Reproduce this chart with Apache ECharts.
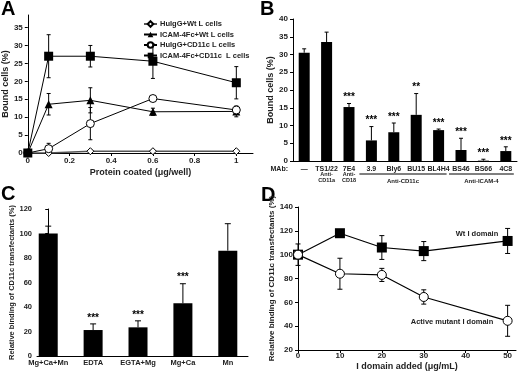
<!DOCTYPE html>
<html>
<head>
<meta charset="utf-8">
<script src="https://cdn.jsdelivr.net/npm/echarts@6/dist/echarts.min.js"></script>
<style>
html,body{margin:0;padding:0;background:#fff}
#main{width:520px;height:372px}
</style>
</head>
<body>
<div id="main"></div>
<script>
// panel A
var aDose = [0, 0.1, 0.3, 0.6, 1];
var aHuWt = [0, 0, 0.5, 0.5, 0.5];
var aHuWtErr = [0, 0.2, 0.3, 0.3, 0.3];
var aIcamWt = [0, 13.6, 14.7, 11.5, 11.6];
var aIcamWtErr = [0, 3, 3.5, 1, 1.5];
var aHuCd = [0, 1.2, 8.2, 15.2, 12];
var aHuCdErr = [0, 1.5, 4.5, 0.7, 1];
var aIcamCd = [0, 27, 27, 25.6, 19.6];
var aIcamCdErr = [0, 6, 3, 4.8, 4.5];
var aNames = ['HuIgG+Wt L cells', 'ICAM-4Fc+Wt L cells', 'HuIgG+CD11c L cells', 'ICAM-4Fc+CD11c  L cells'];
var aYTicks = [0, 5, 10, 15, 20, 25, 30, 35];
var aXTicks = [0, 0.2, 0.4, 0.6, 0.8, 1];

// panel B
var bMabs = ['—', 'TS1/22', '7E4', '3.9', 'Bly6', 'BU15', 'BL4H4', 'BS46', 'BS66', '4C8'];
var bBound = [30.5, 33.5, 15.2, 5.8, 8.1, 13, 8.7, 3.1, 0.1, 2.8];
var bErr = [1.1, 2.8, 1, 3.9, 2.6, 6, 0.3, 3.3, 0.4, 1.2];
var bStars = ['', '', '***', '***', '***', '**', '***', '***', '***', '***'];
var bSub = ['', 'Anti-\nCD11a', 'Anti-\nCD18', '', '', '', '', '', '', ''];
var bGroups = [['Anti-CD11c', 3, 6], ['Anti-ICAM-4', 7, 9]];

// panel C
var cCond = ['Mg+Ca+Mn', 'EDTA', 'EGTA+Mg', 'Mg+Ca', 'Mn'];
var cRel = [100, 21.2, 23.4, 43, 86];
var cErr = [6, 5, 5.3, 16, 22];
var cStars = ['', '***', '***', '***', ''];

// panel D
var dConc = [0, 10, 20, 30, 50];
var dWt = [100, 118, 106, 103, 111.5];
var dWtErr = [0, 3, 10, 8, 10.5];
var dMut = [100, 84, 83, 64.5, 44.5];
var dMutErr = [9, 13, 5.5, 6, 13];

var FONT = 'Liberation Sans, Arial, sans-serif';
var myChart = echarts.init(document.getElementById('main'));

function pairs(xs, ys) {
	return xs.map(function(x, i) { return [x, ys[i]]; });
}
function triples(xs, ys, es) {
	return xs.map(function(x, i) { return [x, ys[i], es[i]]; });
}

// error bar drawer, optional asterisks above
function errBars(upOnly, cap, stars) {
	return function(params, api) {
		var x = api.value(0), y = api.value(1), e = api.value(2);
		var top = api.coord([x, y + e]);
		var bot = api.coord([x, upOnly ? y : y - e]);
		var st = {stroke: '#000', lineWidth: 1};
		var kids = [];
		if (e > 0) {
			kids.push({type: 'line', shape: {x1: top[0], y1: top[1], x2: bot[0], y2: bot[1]}, style: st});
			kids.push({type: 'line', shape: {x1: top[0] - cap, y1: top[1], x2: top[0] + cap, y2: top[1]}, style: st});
			if (!upOnly) {
				kids.push({type: 'line', shape: {x1: bot[0] - cap, y1: bot[1], x2: bot[0] + cap, y2: bot[1]}, style: st});
			}
		}
		var s = stars ? stars[params.dataIndex] : '';
		if (s) {
			kids.push({type: 'text', style: {text: s, x: top[0], y: top[1] - 1, align: 'center', verticalAlign: 'bottom',
				font: 'bold 10px ' + FONT, fill: '#000'}});
		}
		return {type: 'group', children: kids};
	};
}

var axLine = {lineStyle: {color: '#000', width: 1}};
var lbl = {color: '#222', fontWeight: 'bold', fontSize: 8, fontFamily: FONT};
var nameSt = {color: '#222', fontWeight: 'bold', fontSize: 9, fontFamily: FONT};

function openSym(c) {
	return {color: c, borderColor: '#000', borderWidth: 1};
}

var option = {
	animation: false,
	grid: [
		{left: 26, top: 15, width: 227, height: 138},
		{left: 293, top: 19, width: 224, height: 142},
		{left: 37, top: 209, width: 211, height: 147},
		{left: 298, top: 207, width: 218, height: 145}
	],
	legend: {
		data: aNames,
		orient: 'vertical',
		left: 143, top: 20,
		padding: 0,
		itemWidth: 13, itemHeight: 7, itemGap: 2.5,
		textStyle: {color: '#222', fontWeight: 'bold', fontSize: 7.5, fontFamily: FONT, padding: [0, 0, 0, -2]}
	},
	xAxis: [
		{
			gridIndex: 0, type: 'value', min: 0, max: 1.08,
			axisLine: axLine, splitLine: {show: false},
			axisTick: {customValues: aXTicks, length: 3, lineStyle: {color: '#000'}},
			axisLabel: Object.assign({customValues: aXTicks, margin: 4}, lbl),
			name: 'Protein coated (μg/well)', nameLocation: 'middle', nameGap: 15, nameTextStyle: nameSt
		},
		{
			gridIndex: 1, type: 'category', data: bMabs,
			axisLine: axLine, axisTick: {show: false},
			axisLabel: Object.assign({interval: 0, margin: 5}, lbl, {fontSize: 7})
		},
		{
			gridIndex: 2, type: 'value', min: -0.25, max: 4.45,
			axisLine: axLine, splitLine: {show: false}, axisTick: {show: false},
			axisLabel: Object.assign({customValues: [0, 1, 2, 3, 4], margin: 3,
				formatter: function(v) { return cCond[Math.round(v)]; }}, lbl, {fontSize: 7.5})
		},
		{
			gridIndex: 3, type: 'value', min: 0, max: 52,
			axisLine: axLine, splitLine: {show: false},
			axisTick: {customValues: dConc.concat([40]), length: 3, lineStyle: {color: '#000'}},
			axisLabel: Object.assign({customValues: [0, 10, 20, 30, 40, 50], margin: 2}, lbl),
			name: 'I domain added (μg/mL)', nameLocation: 'middle', nameGap: 12, nameTextStyle: nameSt
		}
	],
	yAxis: [
		{
			gridIndex: 0, type: 'value', min: 0, max: 38.5,
			axisLine: {show: true, lineStyle: {color: '#000', width: 1}}, splitLine: {show: false},
			axisTick: {show: true, customValues: aYTicks, length: 3, lineStyle: {color: '#000'}},
			axisLabel: Object.assign({customValues: aYTicks, margin: 5}, lbl),
			name: 'Bound cells (%)', nameLocation: 'middle', nameGap: 12, nameTextStyle: nameSt
		},
		{
			gridIndex: 1, type: 'value', min: 0, max: 40, interval: 5,
			axisLine: {show: true, lineStyle: {color: '#000', width: 1}}, splitLine: {show: false},
			axisTick: {show: true, length: 3, lineStyle: {color: '#000'}},
			axisLabel: Object.assign({margin: 5}, lbl),
			name: 'Bound cells (%)', nameLocation: 'middle', nameGap: 13, nameTextStyle: nameSt
		},
		{
			gridIndex: 2, type: 'value', min: 0, max: 120, interval: 20,
			axisLine: {show: true, lineStyle: {color: '#000', width: 1}}, splitLine: {show: false},
			axisTick: {show: true, length: 3, lineStyle: {color: '#000'}},
			axisLabel: Object.assign({margin: 5}, lbl, {fontSize: 7.5}),
			name: 'Relative binding of CD11c transfectants (%)', nameLocation: 'middle', nameGap: 18,
			nameTextStyle: Object.assign({}, nameSt, {fontSize: 7.5})
		},
		{
			gridIndex: 3, type: 'value', min: 20, max: 140, interval: 20,
			axisLine: {show: true, lineStyle: {color: '#000', width: 1}}, splitLine: {show: false},
			axisTick: {show: true, length: 3, lineStyle: {color: '#000'}},
			axisLabel: Object.assign({margin: 5}, lbl),
			name: 'Relative binding of CD11c transfectants (%)', nameLocation: 'middle', nameGap: 20,
			nameTextStyle: Object.assign({}, nameSt, {fontSize: 8})
		}
	],
	series: [
		// A
		{
			type: 'custom', xAxisIndex: 0, yAxisIndex: 0, renderItem: errBars(false, 2, null),
			data: triples(aDose, aHuWt, aHuWtErr)
				.concat(triples(aDose, aIcamWt, aIcamWtErr))
				.concat(triples(aDose, aHuCd, aHuCdErr))
				.concat(triples(aDose, aIcamCd, aIcamCdErr))
		},
		{
			name: aNames[0], type: 'line', xAxisIndex: 0, yAxisIndex: 0, data: pairs(aDose, aHuWt),
			symbol: 'diamond', symbolSize: 7, showAllSymbol: true,
			lineStyle: {color: '#555', width: 1.5}, itemStyle: openSym('#fff')
		},
		{
			name: aNames[1], type: 'line', xAxisIndex: 0, yAxisIndex: 0, data: pairs(aDose, aIcamWt),
			symbol: 'triangle', symbolSize: 8,
			lineStyle: {color: '#000', width: 1}, itemStyle: {color: '#000'}
		},
		{
			name: aNames[2], type: 'line', xAxisIndex: 0, yAxisIndex: 0, data: pairs(aDose, aHuCd),
			symbol: 'circle', symbolSize: 8,
			lineStyle: {color: '#000', width: 1}, itemStyle: openSym('#fff')
		},
		{
			name: aNames[3], type: 'line', xAxisIndex: 0, yAxisIndex: 0, data: pairs(aDose, aIcamCd),
			symbol: 'rect', symbolSize: 9,
			lineStyle: {color: '#000', width: 1}, itemStyle: {color: '#000'}
		},
		// B
		{
			type: 'bar', xAxisIndex: 1, yAxisIndex: 1, data: bBound, barWidth: 11,
			itemStyle: {color: '#000'}
		},
		{
			type: 'custom', xAxisIndex: 1, yAxisIndex: 1, renderItem: errBars(true, 2, bStars),
			data: triples(bMabs.map(function(m, i) { return i; }), bBound, bErr)
		},
		// C
		{
			type: 'bar', xAxisIndex: 2, yAxisIndex: 2, data: pairs([0, 1, 2, 3, 4], cRel), barWidth: 19,
			itemStyle: {color: '#000'}
		},
		{
			type: 'custom', xAxisIndex: 2, yAxisIndex: 2, renderItem: errBars(true, 3, cStars),
			data: triples([0, 1, 2, 3, 4], cRel, cErr)
		},
		// D
		{
			type: 'custom', xAxisIndex: 3, yAxisIndex: 3, renderItem: errBars(false, 2.5, null),
			data: triples(dConc, dWt, dWtErr).concat(triples(dConc, dMut, dMutErr))
		},
		{
			name: 'Wt I domain', type: 'line', xAxisIndex: 3, yAxisIndex: 3, data: pairs(dConc, dWt),
			symbol: 'rect', symbolSize: 10,
			lineStyle: {color: '#000', width: 1.2}, itemStyle: {color: '#000'}
		},
		{
			name: 'Active mutant I domain', type: 'line', xAxisIndex: 3, yAxisIndex: 3, data: pairs(dConc, dMut),
			symbol: 'circle', symbolSize: 9,
			lineStyle: {color: '#000', width: 1.2}, itemStyle: openSym('#fff')
		}
	]
};

myChart.setOption(option);

// panel letters, MAb group labels, D annotations
var letter = function(t, x, y) {
	return {type: 'text', x: x, y: y, style: {text: t, font: 'bold 20px ' + FONT, fill: '#000', verticalAlign: 'middle'}};
};
var small = function(t, x, y, size, align) {
	return {type: 'text', x: x, y: y, style: {text: t, font: 'bold ' + size + 'px ' + FONT, fill: '#222',
		align: align || 'center', verticalAlign: 'top', lineHeight: size + 0.5}};
};
var bx = function(i) { return myChart.convertToPixel({xAxisIndex: 1}, i); };
var gfx = [
	letter('A', 1, 9), letter('B', 260, 9), letter('C', 1, 194), letter('D', 261, 195),
	small('MAb:', 288, 165.5, 7, 'right'),
	small('Wt I domain', 477, 230, 7.5),
	small('Active mutant I domain', 452, 318, 7.5)
];
bSub.forEach(function(s, i) {
	if (s) gfx.push(small(s, bx(i), 171, 5.5));
});
bGroups.forEach(function(g) {
	var x1 = bx(g[1]) - 12, x2 = bx(g[2]) + 8;
	gfx.push({type: 'line', shape: {x1: x1, y1: 174, x2: x2, y2: 174}, style: {stroke: '#000', lineWidth: 1}});
	gfx.push(small(g[0], (x1 + x2) / 2, 178.5, 6));
});
myChart.setOption({graphic: gfx});

window.addEventListener('resize', function() {
	myChart.resize();
});
</script>
</body>
</html>
